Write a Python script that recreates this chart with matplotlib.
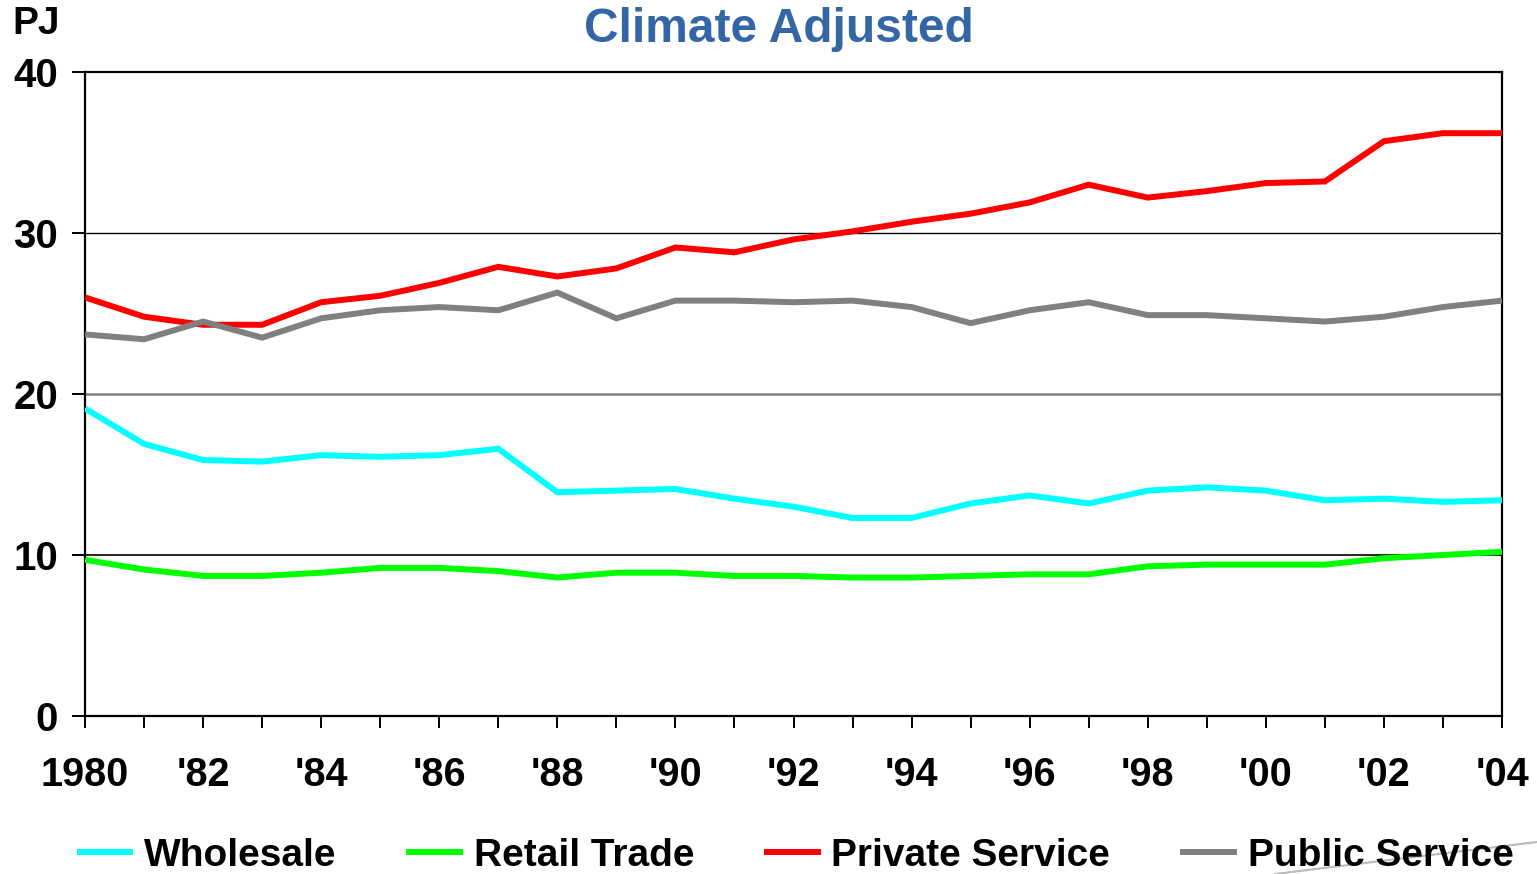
import matplotlib
matplotlib.use("Agg")
import matplotlib.pyplot as plt
from matplotlib.lines import Line2D

plt.rcParams['font.family'] = ['Liberation Sans', 'DejaVu Sans']
plt.rcParams['font.weight'] = 'bold'

years = list(range(1980, 2005))
wholesale = [19.1, 16.9, 15.9, 15.8, 16.2, 16.1, 16.2, 16.6, 13.9, 14.0, 14.1, 13.5, 13.0,
             12.3, 12.3, 13.2, 13.7, 13.2, 14.0, 14.2, 14.0, 13.4, 13.5, 13.3, 13.4]
retail_trade = [9.7, 9.1, 8.7, 8.7, 8.9, 9.2, 9.2, 9.0, 8.6, 8.9, 8.9, 8.7, 8.7,
                8.6, 8.6, 8.7, 8.8, 8.8, 9.3, 9.4, 9.4, 9.4, 9.8, 10.0, 10.2]
private_service = [26.0, 24.8, 24.3, 24.3, 25.7, 26.1, 26.9, 27.9, 27.3, 27.8, 29.1, 28.8, 29.6,
                   30.1, 30.7, 31.2, 31.9, 33.0, 32.2, 32.6, 33.1, 33.2, 35.7, 36.2, 36.2]
public_service = [23.7, 23.4, 24.5, 23.5, 24.7, 25.2, 25.4, 25.2, 26.3, 24.7, 25.8, 25.8, 25.7,
                  25.8, 25.4, 24.4, 25.2, 25.7, 24.9, 24.9, 24.7, 24.5, 24.8, 25.4, 25.8]

series_names = ["Wholesale", "Retail Trade", "Private Service", "Public Service"]
series_colors = ["#00FFFF", "#00FF00", "#FF0000", "#808080"]
y_ticks = [0, 10, 20, 30, 40]
x_label_years = list(range(1980, 2005, 2))
x_labels = ["1980"] + ["'" + str(y)[2:] for y in x_label_years[1:]]

fig = plt.figure(figsize=(15.37, 8.74), dpi=100)
ax = fig.add_axes([85 / 1537, 1 - 716 / 874, (1502 - 85) / 1537, (716 - 72) / 874])

# horizontal reference lines
ax.axhline(10, color="black", lw=1.2, zorder=1)
ax.axhline(20, color="#808080", lw=1.8, zorder=1)
ax.axhline(30, color="black", lw=1.0, zorder=1)

for vals, name, col in zip([wholesale, retail_trade, private_service, public_service],
                           series_names, series_colors):
    ax.plot(years, vals, color=col, lw=4.3, label=name, zorder=3,
            solid_joinstyle="miter", solid_capstyle="butt")

ax.set_xlim(1980, 2004)
ax.set_ylim(0, 40)
ax.set_yticks(y_ticks)
ax.set_yticklabels([str(v) for v in y_ticks], fontsize=29, fontweight="bold")
ax.set_xticks(years)
ax.set_xticklabels([x_labels[x_label_years.index(y)] if y in x_label_years else "" for y in years],
                   fontsize=28.5, fontweight="bold")
ax.tick_params(axis="y", direction="out", length=9.5, width=1.4, pad=10)
ax.tick_params(axis="x", direction="out", length=8.5, width=1.4, pad=20)

for s in ax.spines.values():
    s.set_linewidth(1.6)
    s.set_color("black")

fig.text(779 / 1537, 1 - 30 / 874, "Climate Adjusted", ha="center", va="center",
         fontsize=34.5, fontweight="bold", color="#3465A4")
fig.text(12 / 1537, 1 - 24 / 874, "PJ", ha="left", va="center",
         fontsize=28, fontweight="bold", color="black")

fig.legend(loc="center", bbox_to_anchor=(795 / 1537, 1 - 856 / 874), ncol=4, frameon=False,
           prop={"size": 28, "weight": "bold"}, handlelength=1.45, handletextpad=0.28,
           columnspacing=1.8, borderaxespad=0, borderpad=0)

# faint swoosh in the lower right corner
fig.add_artist(Line2D([1275 / 1537, 1.0], [0.0, 1 - 842 / 874], transform=fig.transFigure,
                      color="#BBBBBB", lw=1.5))

fig.savefig("out.png", dpi=100)
